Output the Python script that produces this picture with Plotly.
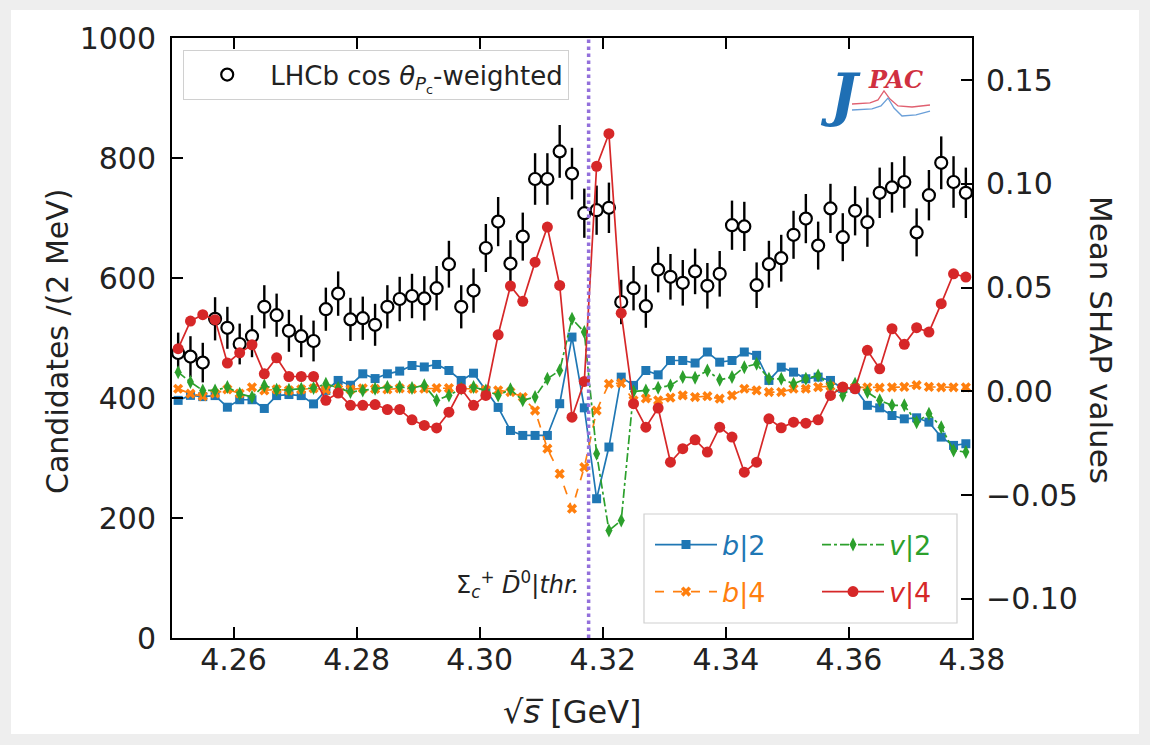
import numpy as np
import plotly.graph_objects as go

# ---------------- data ----------------
x_bins = np.round(np.arange(4.251, 4.3795, 0.002), 3)  # 2 MeV bin centres

lhcb_counts = [475, 469, 459, 532, 517, 490, 503, 552, 538, 512, 503, 495, 548, 574, 531, 533,
               522, 552, 565, 570, 566, 583, 623, 552, 579, 650, 694, 624, 669, 765, 765, 811,
               774, 708, 713, 717, 560, 583, 553, 614, 602, 592, 611, 587, 607, 688, 686, 588,
               623, 633, 672, 699, 654, 716, 668, 712, 693, 742, 751, 760, 676, 738, 792, 760, 742]
lhcb_errors = [34, 34, 33, 36, 35, 34, 35, 36, 36, 35, 35, 34, 36, 37, 36, 36,
               35, 36, 37, 37, 37, 37, 39, 36, 37, 40, 41, 39, 40, 43, 43, 44,
               43, 41, 41, 42, 37, 37, 36, 38, 38, 38, 38, 38, 38, 41, 41, 38,
               39, 39, 40, 41, 40, 41, 40, 41, 41, 42, 42, 43, 40, 42, 44, 43, 42]

shap_b2 = [-0.0043, -0.0019, -0.0025, -0.0020, -0.0076, -0.0040, -0.0040, -0.0082, -0.0020, -0.0015,
           -0.0020, -0.0060, 0.0005, 0.0053, 0.0030, 0.0085, 0.0062, 0.0085, 0.0098, 0.0125,
           0.0118, 0.0130, 0.0101, 0.0053, 0.0088, 0.0005, -0.0077, -0.0188, -0.0212, -0.0212,
           -0.0212, -0.0059, 0.0262, -0.0079, -0.0517, -0.0268, 0.0069, 0.0029, 0.0101, 0.0080,
           0.0149, 0.0149, 0.0137, 0.0190, 0.0141, 0.0149, 0.0190, 0.0174, 0.0053, 0.0117,
           0.0093, 0.0061, 0.0069, 0.0053, 0.0014, 0.0014, -0.0067, -0.0079, -0.0116, -0.0132,
           -0.0127, -0.0148, -0.0220, -0.0260, -0.0252]
shap_b4 = [0.0013, -0.0011, -0.0023, -0.0010, 0.0010, -0.0010, 0.0020, 0.0005, 0.0010, 0.0005,
           0.0010, 0.0015, 0.0008, 0.0012, 0.0010, 0.0015, 0.0012, 0.0010, 0.0015, 0.0012,
           0.0013, 0.0016, 0.0016, 0.0013, 0.0013, 0.0008, 0.0005, -0.0003, -0.0027, -0.0092,
           -0.0276, -0.0397, -0.0565, -0.0365, -0.0092, 0.0037, 0.0040, -0.0043, -0.0034, -0.0043,
           -0.0030, -0.0019, -0.0027, -0.0023, -0.0035, -0.0019, 0.0013, 0.0005, -0.0003, -0.0003,
           0.0013, 0.0013, 0.0021, 0.0025, 0.0020, 0.0020, 0.0020, 0.0018, 0.0020, 0.0022,
           0.0030, 0.0022, 0.0020, 0.0020, 0.0020]
shap_v2 = [0.0093, 0.0045, 0.0005, 0.0005, 0.0021, -0.0011, -0.0027, 0.0029, 0.0008, 0.0008,
           0.0013, 0.0016, 0.0037, 0.0016, -0.0003, 0.0005, 0.0013, 0.0021, 0.0021, 0.0016,
           0.0030, -0.0043, -0.0019, 0.0014, 0.0021, 0.0005, -0.0019, 0.0010, -0.0043, -0.0027,
           0.0061, 0.0101, 0.0350, 0.0286, -0.0300, -0.0670, -0.0622, 0.0000, 0.0005, 0.0018,
           0.0029, 0.0069, 0.0066, 0.0101, 0.0056, 0.0069, 0.0117, 0.0133, 0.0061, 0.0061,
           0.0037, 0.0061, 0.0077, 0.0029, -0.0019, 0.0037, -0.0003, -0.0043, -0.0067, -0.0067,
           -0.0148, -0.0107, -0.0172, -0.0284, -0.0292]
shap_v4 = [0.0206, 0.0339, 0.0370, 0.0346, 0.0137, 0.0186, 0.0225, 0.0085, 0.0162, 0.0072,
           0.0072, 0.0072, -0.0043, -0.0008, -0.0067, -0.0067, -0.0063, -0.0087, -0.0087, -0.0137,
           -0.0164, -0.0176, -0.0100, 0.0013, -0.0067, -0.0019, 0.0273, 0.0508, 0.0434, 0.0623,
           0.0792, 0.0511, -0.0124, 0.0048, 0.1085, 0.1242, 0.0377, -0.0059, -0.0172, -0.0080,
           -0.0341, -0.0276, -0.0233, -0.0292, -0.0172, -0.0220, -0.0389, -0.0341, -0.0132, -0.0175,
           -0.0148, -0.0153, -0.0137, -0.0019, 0.0021, 0.0013, 0.0198, 0.0109, 0.0302, 0.0227,
           0.0307, 0.0286, 0.0423, 0.0567, 0.0551]

THRESHOLD = 4.3177  # Sigma_c+ D0bar threshold [GeV]

x_ticks = [4.26, 4.28, 4.30, 4.32, 4.34, 4.36, 4.38]
left_ticks = [0, 200, 400, 600, 800, 1000]
right_ticks = [-0.10, -0.05, 0.00, 0.05, 0.10, 0.15]

# ---------------- figure ----------------
FONT = "DejaVu Sans"
BLUE, ORANGE, GREEN, RED = "#1f77b4", "#ff7f0e", "#2ca02c", "#d62728"

# pixel -> paper helpers for decorations
L, T, W, H = 172, 38, 800, 600
def px(xp):
    return (xp - L) / W
def py(yp):
    return (T + H - yp) / H

fig = go.Figure()

fig.add_trace(go.Scatter(
    x=x_bins, y=lhcb_counts, mode="markers",
    error_y=dict(type="data", array=lhcb_errors, color="black", thickness=2.4, width=0),
    marker=dict(symbol="circle", size=12, color="white", line=dict(color="black", width=2.2)),
    name="LHCb cos <i>θ</i><sub><i>P</i><sub>c</sub></sub>-weighted", legend="legend",
))

# (name, values, colour, symbol, size, dash, legend id, legend x px, legend y px)
series = [
    ("<span style='color:%s'><i>b</i>|2</span>" % BLUE, shap_b2, BLUE, "square", 9, "solid", "legend2", 650, 545),
    ("<span style='color:%s'><i>b</i>|4</span>" % ORANGE, shap_b4, ORANGE, "x", 9, "dash", "legend3", 650, 592),
    ("<span style='color:%s'><i>v</i>|2</span>" % GREEN, shap_v2, GREEN, "diamond-tall", 10, "dashdot", "legend4", 817, 545),
    ("<span style='color:%s'><i>v</i>|4</span>" % RED, shap_v4, RED, "circle", 11, "solid", "legend5", 817, 592),
]
legend_layouts = {}
for name, vals, col, sym, size, dash, leg, lx, ly in series:
    fig.add_trace(go.Scatter(
        x=x_bins, y=vals, yaxis="y2", mode="lines+markers", name=name, legend=leg,
        line=dict(color=col, width=1.7, dash=dash),
        marker=dict(symbol=sym, size=size, color=col, line=dict(width=0)),
    ))
    legend_layouts[leg] = dict(x=px(lx), y=py(ly), xanchor="left", yanchor="middle",
                               bgcolor="rgba(0,0,0,0)", borderwidth=0,
                               font=dict(family=FONT, size=27), itemwidth=62)

shapes = [
    # white figure area inside a light frame
    dict(type="rect", xref="paper", yref="paper", x0=px(11), x1=px(1139), y0=py(734), y1=py(10),
         fillcolor="white", line=dict(width=0), layer="below"),
    # threshold
    dict(type="line", xref="x", yref="paper", x0=THRESHOLD, x1=THRESHOLD, y0=0, y1=1,
         line=dict(color="#9370db", width=3.5, dash="dot")),
    # lower legend frame
    dict(type="rect", xref="paper", yref="paper", x0=px(644), x1=px(957), y0=py(623), y1=py(514),
         line=dict(color="#d0d0d0", width=1.2), fillcolor="rgba(255,255,255,0.85)", layer="below"),
]

def path_from(points):
    s = "M %.4f,%.4f" % (px(points[0][0]), py(points[0][1]))
    for a, b in points[1:]:
        s += " L %.4f,%.4f" % (px(a), py(b))
    return s

# JPAC logo curves
shapes.append(dict(type="path", xref="paper", yref="paper",
                   path=path_from([(852, 104), (870, 103), (878, 100), (884, 91), (890, 99),
                                   (898, 106), (912, 107), (930, 105)]),
                   line=dict(color="#e06070", width=1.3)))
shapes.append(dict(type="path", xref="paper", yref="paper",
                   path=path_from([(852, 110), (872, 109), (881, 106), (888, 98), (894, 108),
                                   (902, 116), (916, 115), (930, 111)]),
                   line=dict(color="#6a9fd8", width=1.3)))

annotations = [
    dict(text="Candidates /(2 MeV)", xref="paper", yref="paper", x=px(57), y=py(341),
         xanchor="center", yanchor="middle",
         textangle=-90, showarrow=False, font=dict(family=FONT, size=30, color="#222")),
    dict(text="Mean SHAP values", xref="paper", yref="paper", x=px(1101), y=py(340),
         xanchor="center", yanchor="middle",
         textangle=90, showarrow=False, font=dict(family=FONT, size=31, color="#222")),
    dict(text="√<i>s̅</i> [GeV]", xref="paper", yref="paper", x=px(572), y=py(712),
         xanchor="center", yanchor="middle",
         showarrow=False, font=dict(family=FONT, size=32, color="#222")),
    dict(text="Σ<sub><i>c</i></sub><sup>+</sup> <i>D̄</i><sup>0</sup>|<i>thr.</i>", xref="x", yref="paper",
         x=THRESHOLD, xshift=-8, xanchor="right", y=py(584), yanchor="middle", showarrow=False,
         font=dict(family=FONT, size=24, color="#222")),
    dict(text="J", xref="paper", yref="paper", x=px(840), y=py(95), xanchor="center", yanchor="middle",
         showarrow=False,
         font=dict(family="DejaVu Serif", size=58, color="#1f6fb4", weight="bold", style="italic")),
    dict(text="PAC", xref="paper", yref="paper", x=px(895), y=py(79), xanchor="center", yanchor="middle",
         showarrow=False,
         font=dict(family="DejaVu Serif", size=24, color="#d03040", weight="bold", style="italic")),
]

axis_common = dict(showline=True, linecolor="black", linewidth=2, ticks="inside", ticklen=11,
                   tickwidth=1.6, tickcolor="black", showgrid=False, zeroline=False,
                   tickfont=dict(family=FONT, size=30, color="#222"))

fig.update_layout(
    width=1150, height=745,
    margin=dict(l=L, r=1150 - L - W, t=T, b=745 - T - H, autoexpand=False),
    paper_bgcolor="#eeeeee", plot_bgcolor="white",
    xaxis=dict(range=[4.25, 4.38], tickvals=x_ticks, tickformat=".2f", mirror="ticks",
               ticklabelstandoff=-6, **axis_common),
    yaxis=dict(range=[0, 1000], tickvals=left_ticks, ticklabelstandoff=8, **axis_common),
    yaxis2=dict(range=[-0.1188, 0.1703], tickvals=right_ticks, tickformat=".2f", overlaying="y",
                side="right", ticklabelstandoff=6, **axis_common),
    legend=dict(x=px(183), y=py(50), xanchor="left", yanchor="top", bgcolor="white",
                bordercolor="#d0d0d0", borderwidth=1.2, font=dict(family=FONT, size=26, color="#222"),
                itemwidth=76),
    shapes=shapes, annotations=annotations, showlegend=True,
    **legend_layouts,
)

fig.write_html("out.html")
